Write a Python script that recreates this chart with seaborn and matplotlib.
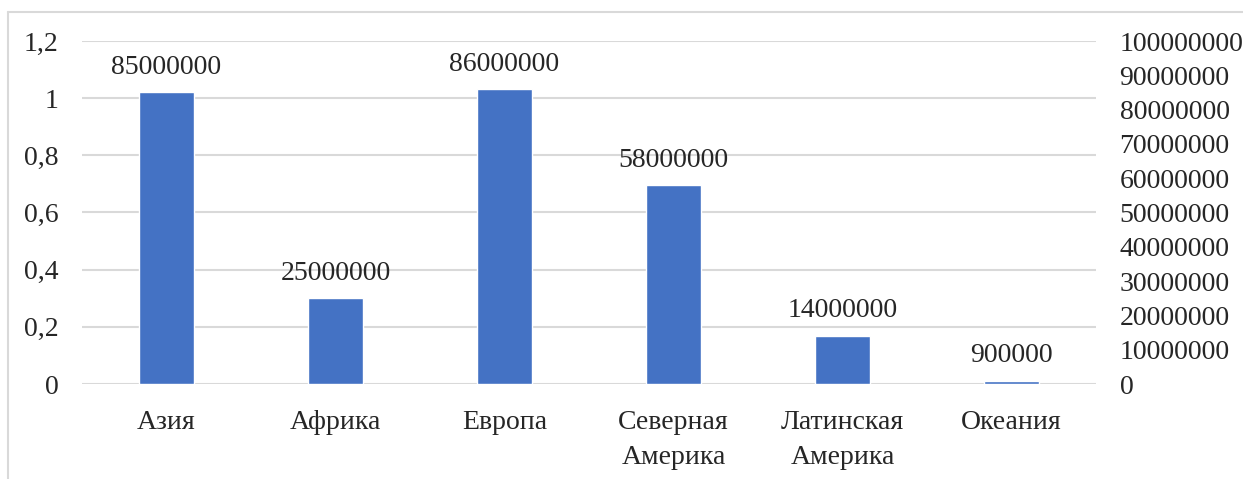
import numpy as np
import pandas as pd
import matplotlib.pyplot as plt
import seaborn as sns
from matplotlib.lines import Line2D
from matplotlib.ticker import FixedLocator, FuncFormatter

# data
regions = ['Азия', 'Африка', 'Европа', 'Северная\nАмерика', 'Латинская\nАмерика', 'Океания']
values = [85000000, 25000000, 86000000, 58000000, 14000000, 900000]
left_ticks = [0, 0.2, 0.4, 0.6, 0.8, 1.0, 1.2]
right_ticks = list(range(0, 100000001, 10000000))

sns.set_style('white')
plt.rcParams['font.family'] = ['Liberation Serif', 'DejaVu Serif']

df = pd.DataFrame({'region': regions, 'value': values})

fig = plt.figure(figsize=(12.43, 4.79), dpi=100)
ax = fig.add_axes([82 / 1243, 95 / 479, 1014 / 1243, 343 / 479])
ax2 = ax.twinx()

# left axis: empty scale 0..1,2 with gridlines
ax.set_ylim(0, 1.2)
ax.yaxis.set_major_locator(FixedLocator(left_ticks))
ax.yaxis.set_major_formatter(FuncFormatter(lambda v, p: f'{v:g}'.replace('.', ',')))
ax.grid(axis='y', color='#D9D9D9', linewidth=1.5)
ax.set_axisbelow(True)

# bars on the right axis
sns.barplot(data=df, x='region', y='value', color='#4472C4', width=0.32,
            saturation=1, ax=ax2)
ax2.set_ylim(0, 100000000)
ax2.yaxis.set_major_locator(FixedLocator(right_ticks))
ax2.yaxis.set_major_formatter(FuncFormatter(lambda v, p: f'{int(v)}'))
ax2.set_xlim(-0.5, len(regions) - 0.5)
ax2.bar_label(ax2.containers[0], labels=[str(v) for v in values],
              padding=9, fontsize=20)

for a in (ax, ax2):
    for s in a.spines.values():
        s.set_visible(False)
    a.set_xlabel('')
    a.set_ylabel('')
    a.tick_params(length=0, labelsize=20)

ax.tick_params(axis='y', pad=17)
ax2.tick_params(axis='y', pad=17)
ax.tick_params(axis='x', pad=19)
for t in ax.get_xticklabels():
    t.set_linespacing(1.5)

# outer chart frame (left and top edges visible)
fig.add_artist(Line2D([8 / 1243, 8 / 1243], [0, 1 - 12 / 479], color='#D9D9D9', linewidth=1.5))
fig.add_artist(Line2D([8 / 1243, 1], [1 - 12 / 479, 1 - 12 / 479], color='#D9D9D9', linewidth=1.5))

fig.savefig('out.png', dpi=100)
